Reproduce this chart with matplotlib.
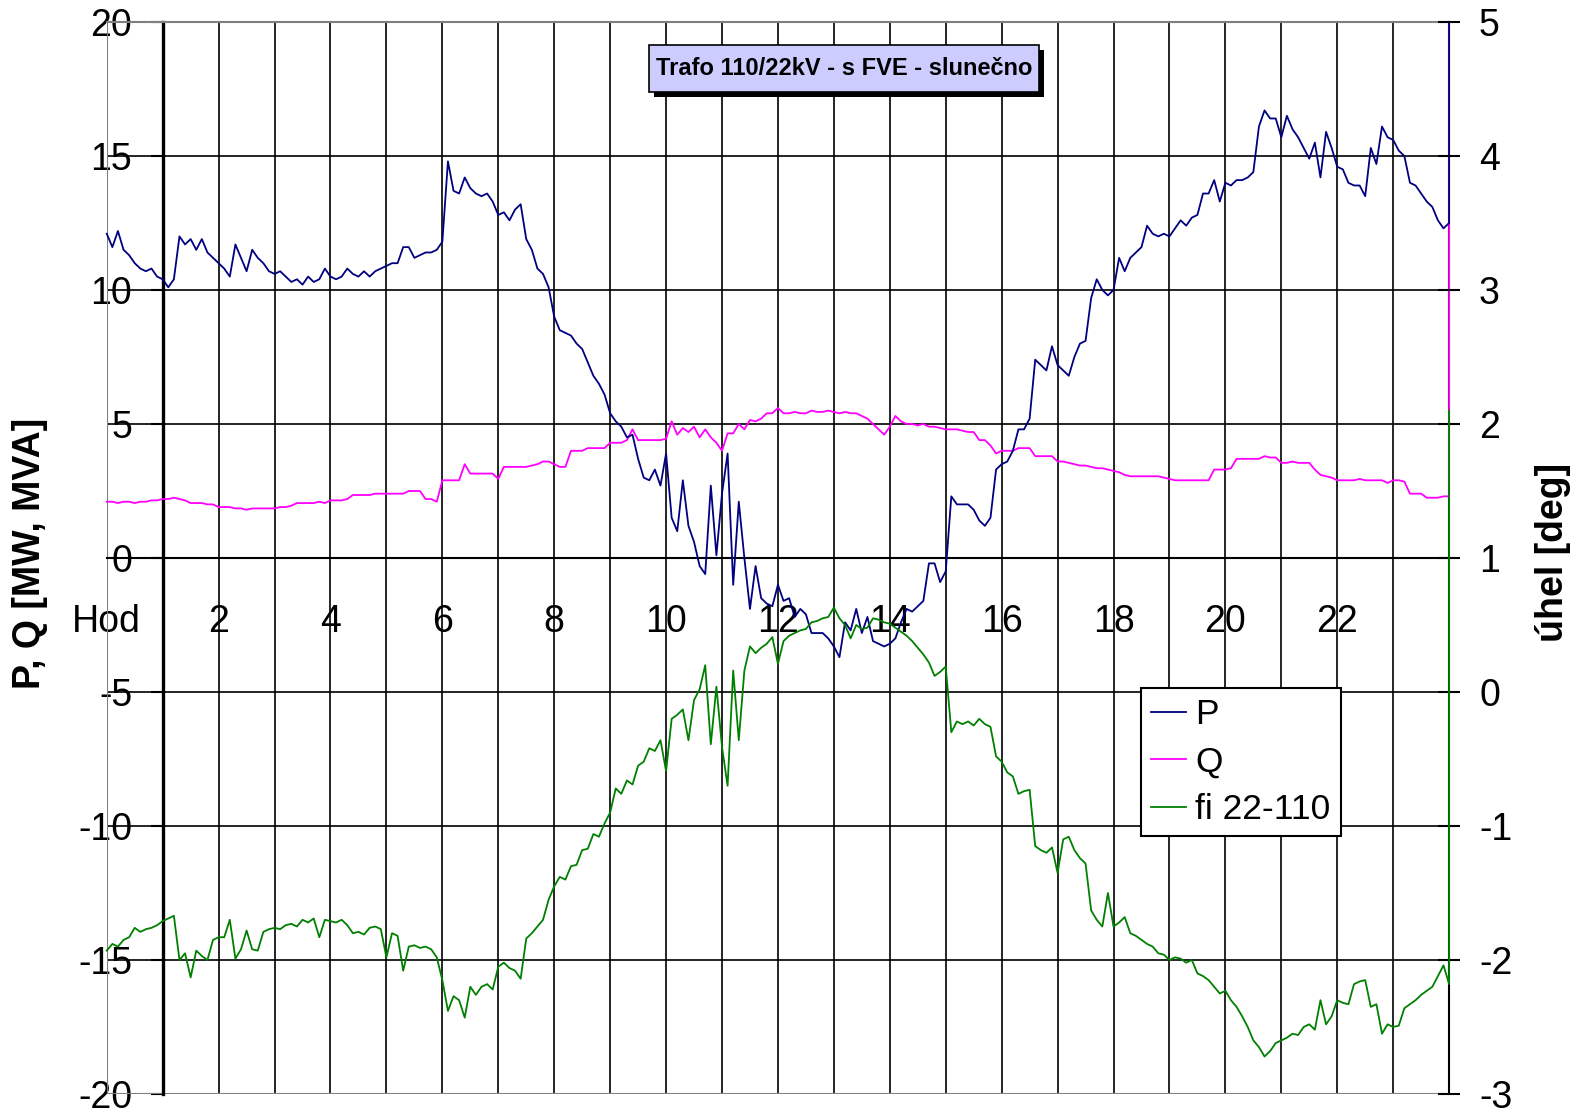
import matplotlib.pyplot as plt
import matplotlib.patheffects as pe
from matplotlib.patches import Rectangle
import numpy as np

plt.rcParams['font.family'] = ['Liberation Sans', 'DejaVu Sans']
plt.rcParams['axes.unicode_minus'] = False

# hodnoty odectene z grafu po 0,1 h (radek = jedna hodina), posledni = 24,0 h
p_mw = [
    12.1, 11.6, 12.2, 11.5, 11.3, 11.0, 10.8, 10.7, 10.8, 10.5,
    10.4, 10.1, 10.4, 12.0, 11.7, 11.9, 11.5, 11.9, 11.4, 11.2,
    11.0, 10.8, 10.5, 11.7, 11.2, 10.7, 11.5, 11.2, 11.0, 10.7,
    10.6, 10.7, 10.5, 10.3, 10.4, 10.2, 10.5, 10.3, 10.4, 10.8,
    10.5, 10.4, 10.5, 10.8, 10.6, 10.5, 10.7, 10.5, 10.7, 10.8,
    10.9, 11.0, 11.0, 11.6, 11.6, 11.2, 11.3, 11.4, 11.4, 11.5,
    11.8, 14.8, 13.7, 13.6, 14.2, 13.8, 13.6, 13.5, 13.6, 13.3,
    12.8, 12.9, 12.6, 13.0, 13.2, 11.9, 11.5, 10.8, 10.6, 10.1,
    9.0, 8.5, 8.4, 8.3, 8.0, 7.8, 7.3, 6.8, 6.5, 6.1,
    5.4, 5.1, 4.9, 4.5, 4.6, 3.7, 3.0, 2.9, 3.3, 2.7,
    3.9, 1.5, 1.0, 2.9, 1.2, 0.6, -0.3, -0.6, 2.7, 0.1,
    2.4, 3.9, -1.0, 2.1, 0.0, -1.9, -0.3, -1.5, -1.7, -1.8,
    -1.0, -1.6, -1.5, -2.2, -1.9, -2.1, -2.8, -2.8, -2.8, -3.0,
    -3.3, -3.7, -2.4, -2.7, -1.9, -2.8, -2.2, -3.1, -3.2, -3.3,
    -3.2, -3.0, -2.4, -1.9, -2.0, -1.8, -1.6, -0.2, -0.2, -0.9,
    -0.5, 2.3, 2.0, 2.0, 2.0, 1.8, 1.4, 1.2, 1.5, 3.3,
    3.5, 3.6, 4.0, 4.8, 4.8, 5.2, 7.4, 7.2, 7.0, 7.9,
    7.2, 7.0, 6.8, 7.5, 8.0, 8.1, 9.7, 10.4, 10.0, 9.8,
    10.0, 11.2, 10.7, 11.2, 11.4, 11.6, 12.4, 12.1, 12.0, 12.1,
    12.0, 12.3, 12.6, 12.4, 12.7, 12.8, 13.6, 13.6, 14.1, 13.3,
    14.0, 13.9, 14.1, 14.1, 14.2, 14.4, 16.1, 16.7, 16.4, 16.4,
    15.7, 16.5, 16.0, 15.7, 15.3, 14.9, 15.5, 14.2, 15.9, 15.3,
    14.6, 14.5, 14.0, 13.9, 13.9, 13.5, 15.3, 14.7, 16.1, 15.7,
    15.6, 15.2, 15.0, 14.0, 13.9, 13.6, 13.3, 13.1, 12.6, 12.3,
    12.5,
]

q_mvar = [
    2.1, 2.1, 2.05, 2.1, 2.1, 2.05, 2.1, 2.1, 2.15, 2.15,
    2.2, 2.2, 2.25, 2.2, 2.15, 2.05, 2.05, 2.05, 2.0, 2.0,
    1.9, 1.9, 1.9, 1.85, 1.85, 1.8, 1.85, 1.85, 1.85, 1.85,
    1.85, 1.9, 1.9, 1.95, 2.05, 2.05, 2.05, 2.05, 2.1, 2.05,
    2.15, 2.15, 2.15, 2.2, 2.35, 2.35, 2.35, 2.35, 2.4, 2.4,
    2.4, 2.4, 2.4, 2.4, 2.5, 2.5, 2.5, 2.2, 2.2, 2.1,
    2.9, 2.9, 2.9, 2.9, 3.5, 3.15, 3.15, 3.15, 3.15, 3.15,
    2.95, 3.4, 3.4, 3.4, 3.4, 3.4, 3.45, 3.5, 3.6, 3.6,
    3.5, 3.4, 3.4, 4.0, 4.0, 4.0, 4.1, 4.1, 4.1, 4.1,
    4.3, 4.3, 4.3, 4.4, 4.8, 4.4, 4.4, 4.4, 4.4, 4.4,
    4.45, 5.1, 4.6, 4.85, 4.7, 4.9, 4.5, 4.8, 4.5, 4.3,
    4.0, 4.65, 4.65, 5.0, 4.8, 5.15, 5.1, 5.2, 5.4, 5.4,
    5.6, 5.4, 5.4, 5.45, 5.4, 5.4, 5.5, 5.45, 5.45, 5.5,
    5.45, 5.4, 5.45, 5.4, 5.4, 5.3, 5.2, 5.0, 4.8, 4.6,
    4.9, 5.3, 5.1, 5.0, 5.0, 4.95, 5.0, 4.9, 4.9, 4.85,
    4.8, 4.8, 4.8, 4.75, 4.7, 4.7, 4.4, 4.4, 4.2, 3.9,
    4.0, 4.0, 4.0, 4.1, 4.1, 4.1, 3.8, 3.8, 3.8, 3.8,
    3.6, 3.6, 3.55, 3.5, 3.45, 3.45, 3.4, 3.35, 3.35, 3.3,
    3.25, 3.2, 3.1, 3.05, 3.05, 3.05, 3.05, 3.05, 3.05, 3.0,
    2.95, 2.9, 2.9, 2.9, 2.9, 2.9, 2.9, 2.9, 3.3, 3.3,
    3.3, 3.35, 3.7, 3.7, 3.7, 3.7, 3.7, 3.8, 3.75, 3.75,
    3.55, 3.55, 3.6, 3.55, 3.55, 3.55, 3.3, 3.1, 3.05, 3.0,
    2.9, 2.9, 2.9, 2.9, 2.95, 2.9, 2.9, 2.9, 2.9, 2.8,
    2.9, 2.9, 2.85, 2.4, 2.4, 2.4, 2.25, 2.25, 2.25, 2.3,
    2.3,
]

fi_deg = [
    -1.93, -1.88, -1.9, -1.85, -1.83, -1.76, -1.79, -1.77, -1.76, -1.74,
    -1.71, -1.69, -1.67, -2.0, -1.95, -2.13, -1.93, -1.97, -2.0, -1.85,
    -1.83, -1.83, -1.7, -1.99, -1.92, -1.78, -1.92, -1.93, -1.79, -1.77,
    -1.76, -1.77, -1.74, -1.73, -1.75, -1.7, -1.72, -1.69, -1.83, -1.7,
    -1.71, -1.72, -1.7, -1.74, -1.8, -1.79, -1.81, -1.76, -1.75, -1.77,
    -1.98, -1.8, -1.82, -2.08, -1.9, -1.89, -1.91, -1.9, -1.92, -1.98,
    -2.15, -2.38, -2.27, -2.3, -2.43, -2.2, -2.26, -2.2, -2.18, -2.22,
    -2.05, -2.02, -2.06, -2.08, -2.14, -1.84, -1.8, -1.75, -1.7, -1.55,
    -1.45, -1.38, -1.4, -1.3, -1.29, -1.18, -1.17, -1.06, -1.08, -0.98,
    -0.9, -0.72, -0.76, -0.66, -0.69, -0.55, -0.52, -0.42, -0.44, -0.36,
    -0.59, -0.2, -0.17, -0.13, -0.36, -0.06, 0.02, 0.2, -0.39, 0.04,
    -0.41, -0.7, 0.16, -0.36, 0.16, 0.34, 0.29, 0.33, 0.36, 0.41,
    0.21, 0.38, 0.42, 0.44, 0.46, 0.47, 0.52, 0.53, 0.55, 0.56,
    0.63, 0.55, 0.5, 0.4, 0.5, 0.47, 0.48, 0.55, 0.54, 0.52,
    0.51, 0.48, 0.45, 0.42, 0.38, 0.33, 0.28, 0.22, 0.12, 0.15,
    0.19, -0.3, -0.22, -0.24, -0.22, -0.25, -0.2, -0.24, -0.26, -0.48,
    -0.52, -0.6, -0.63, -0.76, -0.74, -0.73, -1.15, -1.18, -1.2, -1.16,
    -1.35, -1.1, -1.08, -1.18, -1.24, -1.28, -1.63, -1.7, -1.75, -1.5,
    -1.75, -1.72, -1.68, -1.8, -1.82, -1.85, -1.88, -1.9, -1.95, -1.96,
    -2.0, -1.98, -1.99, -2.02, -2.0, -2.1, -2.12, -2.15, -2.2, -2.25,
    -2.23, -2.3, -2.35, -2.42, -2.5, -2.6, -2.65, -2.72, -2.68, -2.62,
    -2.6, -2.58, -2.55, -2.56, -2.5, -2.48, -2.52, -2.3, -2.48, -2.42,
    -2.3, -2.32, -2.33, -2.18, -2.16, -2.15, -2.35, -2.33, -2.55, -2.48,
    -2.5, -2.49, -2.36, -2.33, -2.3, -2.26, -2.23, -2.2, -2.12, -2.04,
    -2.18,
]

# posledni zaznam ve 24 h (svisly skok na konci)
p_end = 20.0
q_end = 20.0
fi_end = 2.1

hours = np.arange(241) / 10
hours_ext = np.append(hours, 24.0)

fig = plt.figure(figsize=(15.77, 11.11), dpi=100)
ax = fig.add_axes([0.0677, 0.0153, 0.8512, 0.9649])
ax2 = ax.twinx()

lp, = ax.plot(hours_ext, np.append(p_mw, p_end), color='#000080', lw=1.3, label='P',
              zorder=4, clip_on=False)
lq, = ax.plot(hours_ext, np.append(q_mvar, q_end), color='#ff00ff', lw=1.3, label='Q',
              zorder=3, clip_on=False)
lf, = ax2.plot(hours_ext, np.append(fi_deg, fi_end), color='#008000', lw=1.3,
               label='fi 22-110', zorder=3, clip_on=False)

ax.set_xlim(0, 24)
ax.set_ylim(-20, 20)
ax2.set_ylim(-3, 5)

# mrizka
ax.set_xticks(np.arange(0, 24, 2))
ax.set_xticklabels(['Hod'] + [str(h) for h in range(2, 24, 2)])
ax.set_xticks(np.arange(1, 24, 2), minor=True)
ax.set_yticks(np.arange(-20, 21, 5))
ax.set_axisbelow(True)
ax.grid(True, which='both', axis='x', color='black', lw=1.2)
ax.grid(True, axis='y', color='black', lw=1.2)

# osy jako v Excelu: svisla osa v 1. hodine, vodorovna v nule
ax.spines['left'].set_position(('data', 1))
ax.spines['left'].set_linewidth(2.4)
ax.spines['bottom'].set_position(('data', 0))
ax.spines['bottom'].set_linewidth(1.5)
ax.spines['top'].set_color('#808080')
ax.spines['top'].set_linewidth(1.5)
ax.spines['right'].set_linewidth(1.5)
ax.axvline(0, color='#808080', lw=1.5, zorder=2.5)
ax.axhline(-20, color='#808080', lw=1.5, zorder=2.5)

ax.tick_params(axis='y', direction='out', length=9, width=1.5, pad=13, labelsize=27)
ax.tick_params(axis='x', which='both', length=0, pad=33, labelsize=27)

# prava osa: jen popisky a carky, caru kresli hlavni osa (pod krivkami)
for s in ['left', 'top', 'bottom', 'right']:
    ax2.spines[s].set_visible(False)
ax2.set_yticks(np.arange(-3, 6, 1))
ax2.tick_params(axis='y', direction='inout', length=16.5, width=1.5, pad=13.3, labelsize=27)

fig.text(0.019, 0.502, 'P, Q [MW, MVA]', rotation=90, fontsize=27, fontweight='bold',
         ha='center', va='center')
fig.text(0.985, 0.503, 'úhel [deg]', rotation=90, fontsize=27, fontweight='bold',
         ha='center', va='center')

# nadpis v ramecku se stinem
box = Rectangle((0.4115, 0.9172), 0.2473, 0.0423, transform=fig.transFigure,
                fc='#ccccff', ec='black', lw=1.2, zorder=5)
box.set_path_effects([pe.withSimplePatchShadow(offset=(3.3, -3.3), shadow_rgbFace='black', alpha=1.0)])
fig.patches.append(box)
fig.text(0.5352, 0.9383, 'Trafo 110/22kV - s FVE - slunečno', fontsize=17, fontweight='bold',
         ha='center', va='center', zorder=6)

leg = ax2.legend(handles=[lp, lq, lf], loc='upper left', bbox_to_anchor=(0.7233, 0.381),
                 bbox_transform=fig.transFigure, fontsize=25.5, frameon=True, fancybox=False,
                 borderaxespad=0, borderpad=0.29, handlelength=1.0, handletextpad=0.25,
                 labelspacing=0.41, edgecolor='black', framealpha=1)
leg.get_frame().set_linewidth(1.5)

fig.savefig('out.png', dpi=100)
